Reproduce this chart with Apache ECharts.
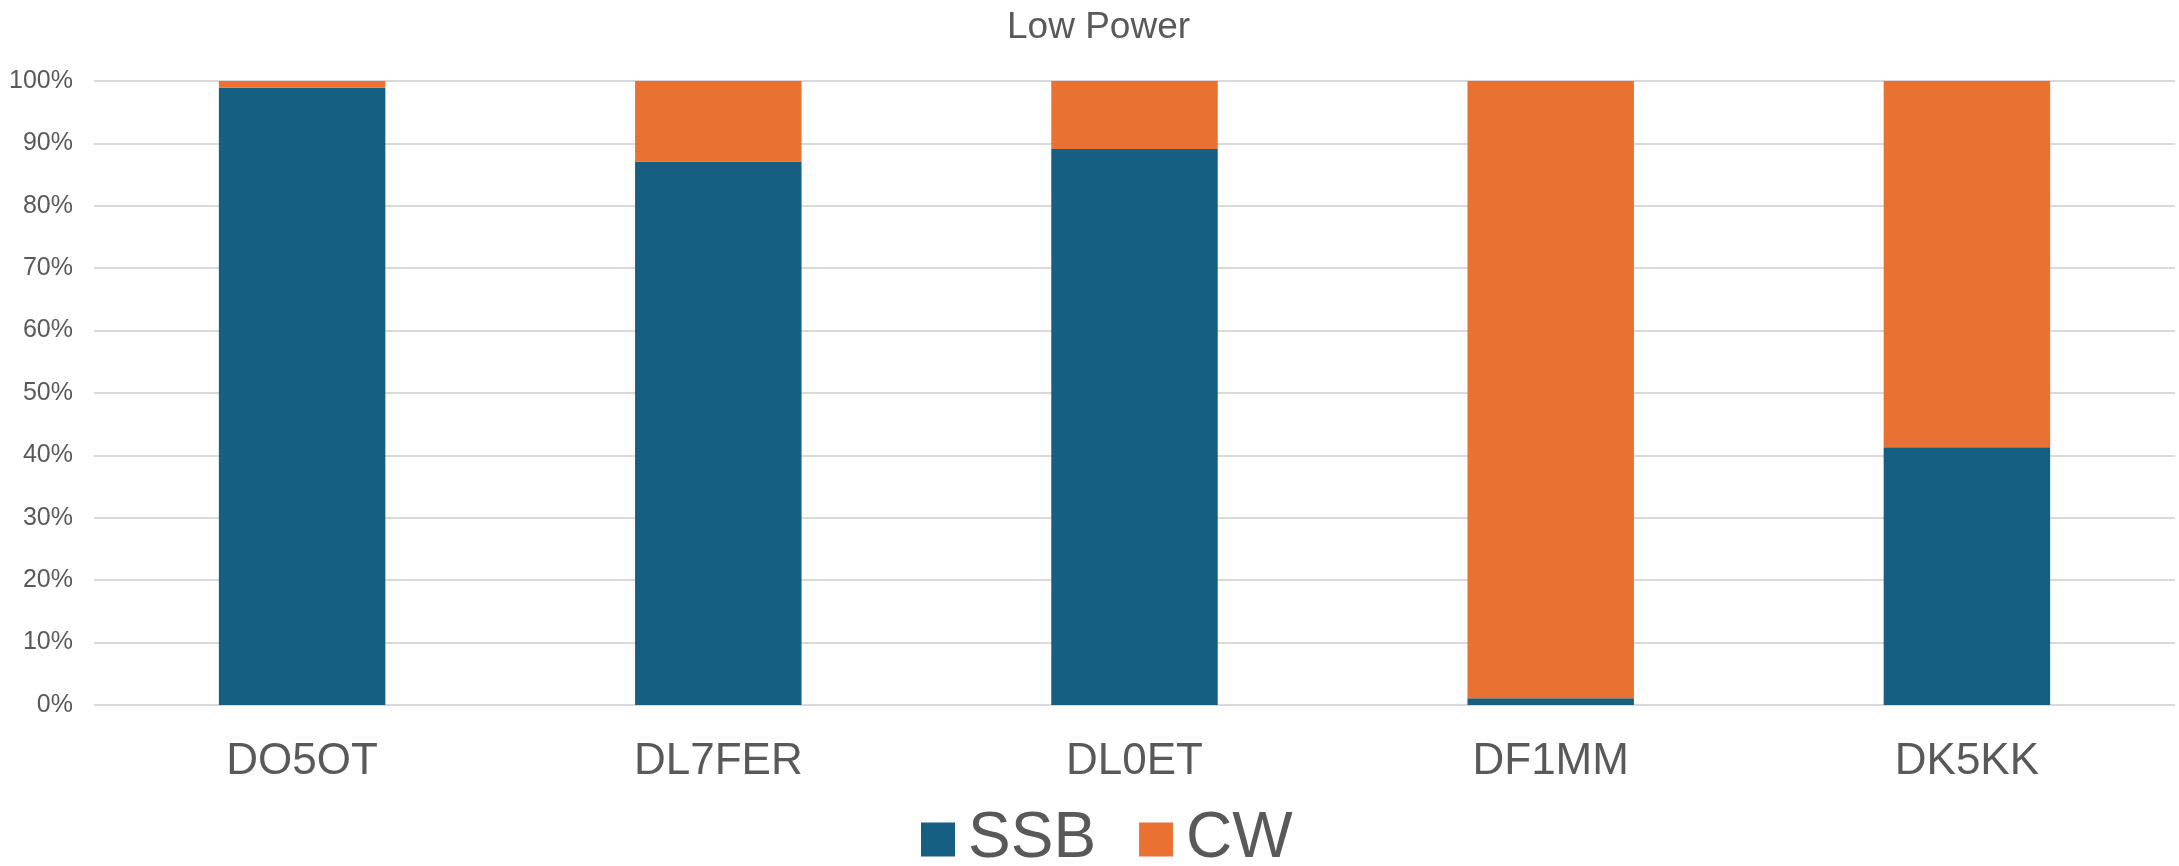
<!DOCTYPE html>
<html>
<head>
<meta charset="utf-8">
<script src="https://cdn.jsdelivr.net/npm/echarts@6/dist/echarts.min.js"></script>
<style>
html,body{margin:0;padding:0;background:#fff;}
#chart{width:2179px;height:866px;}
</style>
</head>
<body>
<div id="chart"></div>
<script>
const categories = ['DO5OT', 'DL7FER', 'DL0ET', 'DF1MM', 'DK5KK'];
const ssbValues = [98.9, 87.1, 89.1, 1.1, 41.3];
const cwValues = [1.1, 12.9, 10.9, 98.9, 58.7];
const yTicks = [0, 10, 20, 30, 40, 50, 60, 70, 80, 90, 100];

const chart = echarts.init(document.getElementById('chart'));
const font = 'Liberation Sans, Arial, sans-serif';
chart.setOption({
  animation: false,
  backgroundColor: '#ffffff',
  title: {
    text: 'Low Power',
    left: 1007,
    top: 9,
    padding: 0,
    textStyle: { fontFamily: font, fontSize: 37, fontWeight: 'normal', color: '#595959' }
  },
  legend: {
    data: ['SSB', 'CW'],
    left: 921,
    top: 806,
    padding: 0,
    icon: 'rect',
    itemWidth: 34,
    itemHeight: 34,
    itemGap: 43,
    textStyle: { fontFamily: font, fontSize: 64, lineHeight: 67, color: '#595959', padding: [0, 0, 0, 8] }
  },
  grid: { left: 94, right: 4, top: 81, bottom: 161, containLabel: false },
  xAxis: {
    type: 'category',
    data: categories,
    axisLine: { show: false },
    axisTick: { show: false },
    axisLabel: { fontFamily: font, fontSize: 44, color: '#595959', margin: 35 }
  },
  yAxis: {
    type: 'value',
    min: yTicks[0],
    max: yTicks[yTicks.length - 1],
    interval: 10,
    axisLine: { show: false },
    axisTick: { show: false },
    splitLine: { lineStyle: { color: '#D9D9D9', width: 2 } },
    axisLabel: { fontFamily: font, fontSize: 25, color: '#595959', margin: 21, formatter: '{value}%' }
  },
  series: [
    { name: 'SSB', type: 'bar', stack: 'total', data: ssbValues, barWidth: '40%', itemStyle: { color: '#156082' } },
    { name: 'CW', type: 'bar', stack: 'total', data: cwValues, barWidth: '40%', itemStyle: { color: '#E97132' } }
  ]
});
</script>
</body>
</html>
